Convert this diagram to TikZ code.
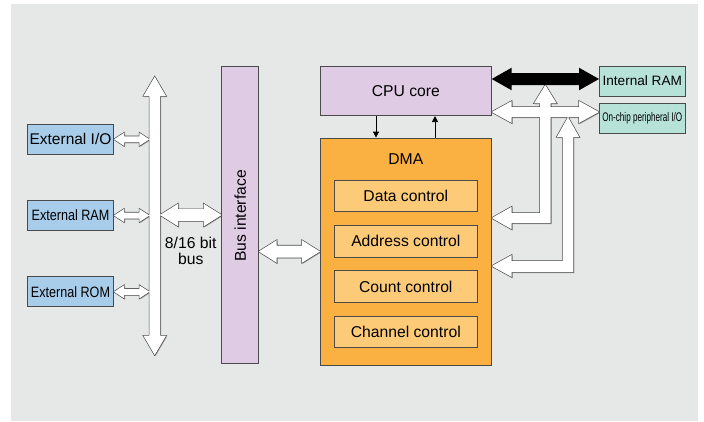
\documentclass[tikz,border=0pt]{standalone}
\usepackage{fontspec}
\setmainfont{Liberation Sans}
\usetikzlibrary{arrows.meta}
\definecolor{bggrey}{HTML}{E6E7E7}
\definecolor{lav}{HTML}{DFCCE4}
\definecolor{dmaor}{HTML}{FBB042}
\definecolor{subor}{HTML}{FDCB78}
\definecolor{intteal}{HTML}{B7E2D8}
\definecolor{extblue}{HTML}{A8CDEA}
\definecolor{edgegrey}{HTML}{4A4A4A}
% horizontal double block arrow: x1, x2, y, shaft half, head half, head length
\newcommand\hdarr[6]{(#1,#3) -- ++(#6,-#5) -- ++(0,#5-#4) -- (#2-#6,#3-#4) -- ++(0,#4-#5) -- (#2,#3) -- ++(-#6,#5) -- ++(0,#4-#5) -- (#1+#6,#3+#4) -- ++(0,#5-#4) -- cycle}
% vertical double block arrow: x, y1, y2, shaft half, head half, head length
\newcommand\vdarr[6]{(#1,#2) -- ++(#5,#6) -- ++(#4-#5,0) -- (#1+#4,#3-#6) -- ++(#5-#4,0) -- (#1,#3) -- ++(-#5,-#6) -- ++(#5-#4,0) -- (#1-#4,#2+#6) -- ++(#4-#5,0) -- cycle}
\newcommand\whitearrows{%
  \vdarr{154.7}{76.7}{355}{5.3}{11.3}{19.3}
  \hdarr{114}{149.4}{139.3}{3}{6.5}{10}
  \hdarr{114}{149.4}{215.5}{3}{6.5}{10}
  \hdarr{114}{149.4}{291.8}{3}{6.5}{10}
  \hdarr{160}{221.7}{215}{5.8}{11.3}{18}
  \hdarr{258.7}{320}{251.5}{6}{11.3}{18}
  \hdarr{491.7}{599}{112}{5}{11}{20}
  (491.7,218) -- (511.7,206.7) -- (511.7,213) -- (540,213) -- (540,103.3) -- (534,103.3) -- (545.3,85) -- (556.6,103.3) -- (550.7,103.3) -- (550.7,223) -- (511.7,223) -- (511.7,229.3) -- cycle
  (491.7,266) -- (511.7,255) -- (511.7,261) -- (562.7,261) -- (562.7,137) -- (556.7,137) -- (568,117) -- (579.3,137) -- (573.3,137) -- (573.3,272) -- (511.7,272) -- (511.7,277) -- cycle}
\tikzset{
  blk/.style={draw=edgegrey, line width=0.8pt, inner sep=0pt, align=center,
    font=\fontsize{15.7}{18}\selectfont},
  subbox/.style={blk, fill=subor, minimum width=142.3pt, minimum height=31.5pt},
  extbox/.style={blk, fill=extblue, minimum width=86.4pt, minimum height=30pt},
  intbox/.style={blk, fill=intteal, minimum width=86.7pt, minimum height=30pt},
  thinarr/.style={draw=black, line width=0.8pt, -{Triangle[length=6pt,width=6pt]}},
}
\begin{document}
\begin{tikzpicture}[x=1pt,y=-1pt]
\useasboundingbox (0,0) rectangle (704,421);
\fill[bggrey] (11,4) rectangle (698,421);

% block arrows: shadow, outline, white fill (union look)
\fill[gray!75, shift={(1,1)}] \whitearrows;
\draw[edgegrey, line width=1.3pt] \whitearrows;
\fill[white] \whitearrows;
% black arrow CPU <-> Internal RAM
\fill[black] \hdarr{491.7}{599}{79}{6}{11.3}{20};

% boxes
\node[blk, fill=lav, minimum width=171.7pt, minimum height=49.7pt] (cpu) at (405.8,90.8) {CPU core};
\node[blk, fill=dmaor, minimum width=171.7pt, minimum height=227pt] (dma) at (405.8,251.5) {};
\node[blk, draw=none] (dmalbl) at (405.8,159) {DMA};
\node[subbox] (data) at (405.8,196) {Data control};
\node[subbox] (addr) at (405.8,241.3) {Address control};
\node[subbox] (count) at (405.8,286.5) {Count control};
\node[subbox] (chan) at (405.8,331.7) {Channel control};
\node[blk, fill=lav, minimum width=37pt, minimum height=297pt] (bif) at (240.2,214.5) {};
\node[blk, draw=none, rotate=90] (biflbl) at (240.2,216) {Bus interface};
\node[extbox, font=\fontsize{15.5}{18}\selectfont] (extio) at (70.5,139.3) {External I/O};
\node[extbox, font=\fontsize{15}{18}\selectfont] (extram) at (70.5,215.5) {\scalebox{0.84}[1]{External RAM}};
\node[extbox, font=\fontsize{15}{18}\selectfont] (extrom) at (70.5,291.8) {\scalebox{0.84}[1]{External ROM}};
\node[intbox, font=\fontsize{13.6}{16}\selectfont] (iram) at (642.3,81) {Internal RAM};
\node[intbox, font=\fontsize{12.5}{15}\selectfont] (onchip) at (642.3,118) {\scalebox{0.65}[1]{On-chip peripheral I/O}};
\node[blk, draw=none, font=\fontsize{15.7}{16.5}\selectfont] (buslbl) at (190.7,250.8) {8/16 bit\\bus};

% thin arrows between CPU core and DMA
\draw[thinarr] (376,0 |- cpu.south) -- (376,0 |- dma.north);
\draw[thinarr] (435,0 |- dma.north) -- (435,0 |- cpu.south);
\end{tikzpicture}
\end{document}
